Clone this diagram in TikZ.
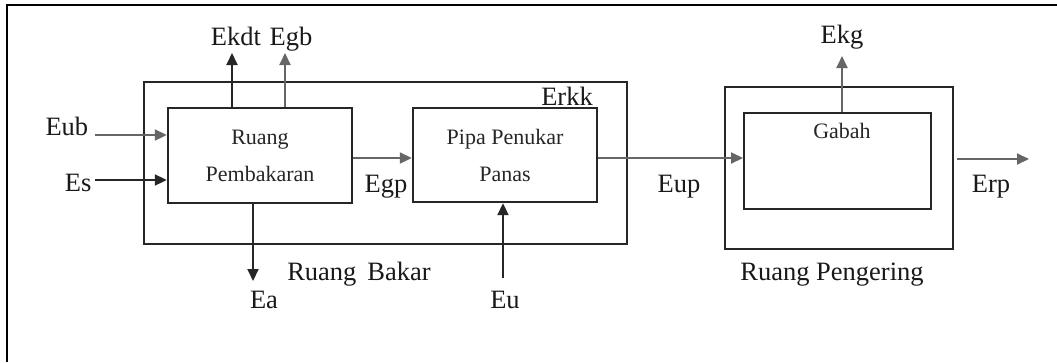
\documentclass[tikz,border=0pt]{standalone}
\usepackage{fontspec}
\setmainfont{Liberation Serif}
\usetikzlibrary{arrows.meta}
\begin{document}
\begin{tikzpicture}[x=1pt,y=-1pt,
  box/.style={draw=black!85, line width=2.4pt, minimum width=#1, inner sep=0pt},
  inner/.style={font=\fontsize{22}{37}\selectfont, align=center, text=black!85},
  lbl/.style={font=\fontsize{26.5}{30}\selectfont, anchor=base, text=black!90},
  arr/.style={draw=black!85, line width=2pt, -{Triangle[length=12pt,width=11pt]}}]
\useasboundingbox (0,0) rectangle (1057,362);
\fill[white] (0,0) rectangle (1057,362);
% outer frame
\draw[line width=2pt] (7,362) -- (7,5) -- (1057,5);

% combustion unit
\node[box=483pt, minimum height=162pt, line width=2pt] (rb) at (385.5,163) {};
\node[box=184pt, minimum height=95pt, inner] (rp) at (260,155.5) {Ruang\\Pembakaran};
\node[box=184pt, minimum height=94pt, inner] (pp) at (505,155) {Pipa Penukar\\Panas};

% drying unit
\node[box=228pt, minimum height=162pt, line width=2pt] (rg) at (839,168) {};
\node[box=187pt, minimum height=96pt, line width=2pt] (gb) at (837.5,161) {};
\node[inner] (gbt) at (842,131) {Gabah};

% energy labels
\node[lbl, anchor=base west] (eub) at (42,135) {Eub};
\node[lbl, anchor=base east] (es) at (95,191) {Es};
\node[lbl] (ekdt) at (236,45) {Ekdt};
\node[lbl] (egb) at (291,45) {Egb};
\node[lbl] (ea) at (264,308) {Ea};
\node[lbl] (egp) at (386,192) {Egp};
\node[lbl] (erkk) at (567,105) {Erkk};
\node[lbl] (eu) at (505,308) {Eu};
\node[lbl] (eup) at (679,192) {Eup};
\node[lbl] (ekg) at (842,43) {Ekg};
\node[lbl] (erp) at (991,192) {Erp};
\node[lbl] (rbt) at (359,280) {Ruang\, Bakar};
\node[lbl] (rgt) at (832,280) {Ruang Pengering};

% free ends of the energy flows
\coordinate (eubS) at (95,135);
\coordinate (esS) at (95,180);
\coordinate (ekdtE) at (232,53);
\coordinate (egbE) at (285,53);
\coordinate (eaE) at (253,281);
\coordinate (euS) at (503,278);
\coordinate (ekgE) at (842,56);
\coordinate (erpS) at (957,159);
\coordinate (erpE) at (1029,159);

% flows
\draw[arr, draw=black!60] (eubS) -- (eubS -| rp.west);
\draw[arr] (esS) -- (esS -| rp.west);
\draw[arr] (rp.north -| ekdtE) -- (ekdtE);
\draw[arr, draw=black!60] (rp.north -| egbE) -- (egbE);
\draw[arr] (rp.south -| eaE) -- (eaE);
\draw[arr, draw=black!60] (rp.east |- 0,158) -- (pp.west |- 0,158);
\draw[arr] (euS) -- (euS |- pp.south);
\draw[arr, draw=black!60] (pp.east |- 0,158) -- (gb.west |- 0,158);
\draw[arr, draw=black!60] (gb.north -| ekgE) -- (ekgE);
\draw[arr, draw=black!60] (erpS) -- (erpE);
\end{tikzpicture}
\end{document}
